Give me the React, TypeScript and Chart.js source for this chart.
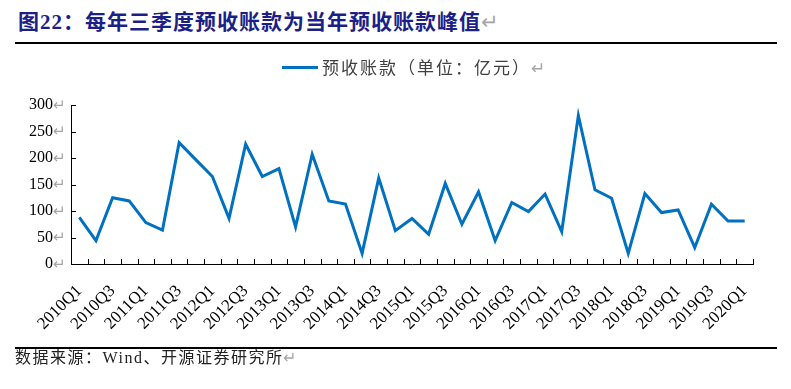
import React, { useEffect, useRef } from "react";
import { Chart, registerables } from "chart.js";
Chart.register(...registerables);

const categories: string[] = [
  "2010Q1", "2010Q2", "2010Q3", "2010Q4",
  "2011Q1", "2011Q2", "2011Q3", "2011Q4",
  "2012Q1", "2012Q2", "2012Q3", "2012Q4",
  "2013Q1", "2013Q2", "2013Q3", "2013Q4",
  "2014Q1", "2014Q2", "2014Q3", "2014Q4",
  "2015Q1", "2015Q2", "2015Q3", "2015Q4",
  "2016Q1", "2016Q2", "2016Q3", "2016Q4",
  "2017Q1", "2017Q2", "2017Q3", "2017Q4",
  "2018Q1", "2018Q2", "2018Q3", "2018Q4",
  "2019Q1", "2019Q2", "2019Q3", "2019Q4",
  "2020Q1",
];

const advanceReceipts: number[] = [
  88, 44, 125, 119, 78, 64, 229, 197, 165, 86,
  226, 165, 180, 70, 207, 119, 113, 20, 162, 63,
  86, 56, 152, 75, 136, 44, 116, 99, 132, 61,
  280, 140, 124, 20, 133, 97, 102, 31, 113, 81,
  81,
];

const yTicks: number[] = [0, 50, 100, 150, 200, 250, 300];

const seriesLabel = "预收账款（单位：亿元）";
const titleText = "图22：每年三季度预收账款为当年预收账款峰值";
const sourceText = "数据来源：Wind、开源证券研究所";

const LINE_COLOR = "#0070C0";
const SERIF = "'Liberation Serif', 'Noto Sans CJK SC', serif";
const CJK = "'Liberation Serif', 'Noto Sans CJK SC', serif";

const axisDecor = {
  id: "axisDecor",
  afterDraw(chart: any) {
    const { ctx, chartArea, scales } = chart;
    const xs = scales.x;
    const ys = scales.y;
    ctx.save();
    ctx.strokeStyle = "#000";
    ctx.lineWidth = 1;
    const n = categories.length;
    const step = xs.getPixelForValue(1) - xs.getPixelForValue(0);
    ctx.beginPath();
    for (let i = 0; i <= n; i++) {
      const px = Math.round(xs.getPixelForValue(0) - step / 2 + i * step) + 0.5;
      ctx.moveTo(px, chartArea.bottom);
      ctx.lineTo(px, chartArea.bottom - 5);
    }
    for (const v of yTicks) {
      const py = Math.round(ys.getPixelForValue(v)) + 0.5;
      ctx.moveTo(chartArea.left, py);
      ctx.lineTo(chartArea.left + 5, py);
    }
    ctx.stroke();
    ctx.fillStyle = "#a6a6a6";
    ctx.font = "15px " + SERIF;
    ctx.textAlign = "left";
    ctx.textBaseline = "middle";
    for (const v of yTicks) {
      const py = ys.getPixelForValue(v);
      ctx.fillText("↵", chartArea.left - 18, py + 1);
    }
    ctx.restore();
  },
};

export default function App() {
  const canvasRef = useRef<HTMLCanvasElement | null>(null);

  useEffect(() => {
    if (!canvasRef.current) return;
    const chart = new Chart(canvasRef.current, {
      type: "line",
      data: {
        labels: categories,
        datasets: [
          {
            label: seriesLabel,
            data: advanceReceipts,
            borderColor: LINE_COLOR,
            backgroundColor: LINE_COLOR,
            borderWidth: 3,
            pointRadius: 0,
            pointHoverRadius: 0,
            tension: 0,
            fill: false,
          },
        ],
      },
      options: {
        responsive: false,
        animation: false,
        layout: { padding: { left: 0, top: 105, right: 38, bottom: 40 } },
        plugins: {
          legend: { display: false },
          title: { display: false },
          tooltip: { enabled: false },
        },
        scales: {
          x: {
            type: "category",
            offset: true,
            grid: { display: false, drawTicks: false },
            border: { display: true, color: "#000", width: 1 },
            afterFit: (s: any) => {
              s.height = 85;
            },
            ticks: {
              autoSkip: false,
              maxRotation: 45,
              minRotation: 45,
              padding: 17,
              color: "#000",
              font: { family: SERIF, size: 17 },
              callback: (_v: any, i: number) => (i % 2 === 0 ? categories[i] : ""),
            },
          },
          y: {
            min: 0,
            max: 300,
            afterFit: (s: any) => {
              s.width = 71;
            },
            afterBuildTicks: (s: any) => {
              s.ticks = yTicks.map((v) => ({ value: v }));
            },
            grid: { display: false, drawTicks: false },
            border: { display: true, color: "#000", width: 1 },
            ticks: {
              padding: 18,
              color: "#000",
              font: { family: SERIF, size: 16 },
            },
          },
        },
      },
      plugins: [axisDecor],
    });
    return () => chart.destroy();
  }, []);

  const arrow = { color: "#a6a6a6" } as React.CSSProperties;

  return (
    <div style={{ position: "absolute", left: 0, top: 0, width: 791, height: 389, background: "#fff", overflow: "hidden" }}>
      <div
        style={{
          position: "absolute",
          left: 18,
          top: 12,
          fontFamily: CJK,
          fontWeight: 700,
          fontSize: 21,
          lineHeight: "21px",
          letterSpacing: "1px",
          color: "#1c1f86",
          whiteSpace: "nowrap",
        }}
      >
        {titleText}
        <span style={{ ...arrow, fontWeight: 400 }}>↵</span>
      </div>
      <div style={{ position: "absolute", left: 15, top: 42, width: 762, height: 2, background: "#000" }} />
      <canvas ref={canvasRef} width={791} height={389} style={{ position: "absolute", left: 0, top: 0 }} />
      <div style={{ position: "absolute", left: 282, top: 66, width: 36, height: 3, background: LINE_COLOR }} />
      <div
        style={{
          position: "absolute",
          left: 322,
          top: 58,
          fontFamily: "'Noto Sans CJK SC', sans-serif",
          fontSize: 17,
          lineHeight: "18px",
          letterSpacing: "2px",
          color: "#404040",
          whiteSpace: "nowrap",
        }}
      >
        {seriesLabel}
        <span style={arrow}>↵</span>
      </div>
      <div style={{ position: "absolute", left: 15, top: 347, width: 762, height: 2, background: "#000" }} />
      <div
        style={{
          position: "absolute",
          left: 15,
          top: 350,
          fontFamily: CJK,
          fontSize: 16,
          lineHeight: "16px",
          letterSpacing: "1.5px",
          color: "#222",
          whiteSpace: "nowrap",
        }}
      >
        {sourceText}
        <span style={arrow}>↵</span>
      </div>
    </div>
  );
}
